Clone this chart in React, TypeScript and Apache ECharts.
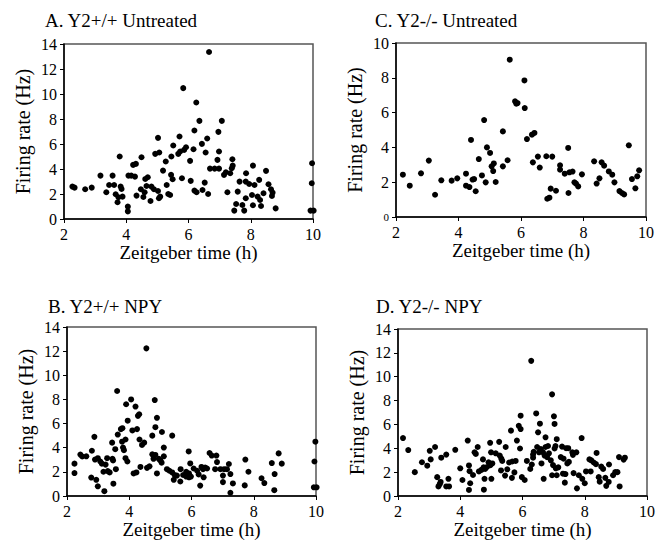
import React, { useEffect, useRef } from "react";
import * as echarts from "echarts";

const titles = ["A. Y2+/+ Untreated", "C. Y2-/- Untreated", "B. Y2+/+ NPY", "D. Y2-/- NPY"];
const xTicks = [2, 4, 6, 8, 10];
const yMaxes = [14, 10, 14, 14];
const xName = "Zeitgeber time (h)";
const yName = "Firing rate (Hz)";

const dataA: number[][] = [
  [2.27, 2.59], [2.34, 2.51], [2.68, 2.38], [2.89, 2.51], [3.17, 3.47], [3.36, 2.14], [3.45, 2.72],
  [3.56, 3.47], [3.61, 2.72], [3.66, 1.98], [3.72, 1.34], [3.75, 1.74], [3.79, 5.0], [3.82, 2.59],
  [3.85, 2.4], [3.88, 1.79], [4.05, 0.99], [4.05, 0.61], [4.07, 3.47], [4.16, 3.47], [4.22, 4.33],
  [4.31, 4.41], [4.28, 3.39], [4.33, 1.87], [4.49, 4.94], [4.47, 2.38], [4.55, 1.76], [4.59, 2.14],
  [4.61, 3.2], [4.69, 3.34], [4.65, 2.64], [4.78, 1.44], [4.81, 2.59], [4.89, 2.38], [4.93, 5.21],
  [5.02, 6.49], [5.02, 2.24], [5.06, 5.32], [5.05, 1.66], [5.09, 1.79], [5.18, 3.87], [5.27, 4.6],
  [5.3, 2.72], [5.35, 2.0], [5.41, 1.92], [5.44, 3.53], [5.49, 3.18], [5.45, 5.0], [5.51, 5.88],
  [5.71, 6.6], [5.67, 5.21], [5.73, 5.4], [5.79, 3.26], [5.83, 10.47], [5.86, 5.53], [5.92, 5.74],
  [6.05, 4.65], [6.07, 3.05], [6.16, 5.58], [6.19, 7.08], [6.19, 2.27], [6.26, 2.14], [6.25, 9.32],
  [6.35, 7.85], [6.43, 6.01], [6.45, 2.32], [6.52, 2.91], [6.55, 5.32], [6.6, 6.44], [6.63, 2.0],
  [6.66, 13.36], [6.69, 4.03], [6.84, 4.03], [6.93, 4.73], [6.96, 6.97], [6.98, 4.03], [6.98, 5.4],
  [7.07, 7.85], [7.14, 3.53], [7.2, 3.74], [7.25, 2.14], [7.34, 3.66], [7.39, 4.06], [7.41, 4.78],
  [7.42, 4.27], [7.47, 0.67], [7.53, 1.2], [7.58, 2.19], [7.64, 2.99], [7.73, 1.12], [7.79, 0.67],
  [7.85, 3.66], [7.84, 2.99], [7.84, 1.66], [7.95, 2.8], [8.04, 1.92], [8.07, 4.27], [8.07, 1.1],
  [8.12, 2.72], [8.22, 1.79], [8.27, 3.13], [8.3, 1.52], [8.33, 1.04], [8.41, 2.06], [8.49, 3.85],
  [8.57, 2.78], [8.65, 2.38], [8.68, 1.84], [8.7, 2.11], [8.8, 0.85], [9.97, 4.46], [9.96, 2.86],
  [9.92, 0.67], [10.02, 0.67],
];

const dataC: number[][] = [
  [2.22, 2.43], [2.44, 1.8], [2.8, 2.51], [3.05, 3.24], [3.25, 1.28], [3.45, 2.11], [3.78, 2.09],
  [3.96, 2.22], [4.24, 2.49], [4.24, 1.8], [4.35, 1.72], [4.4, 4.43], [4.45, 2.15], [4.5, 2.18],
  [4.55, 1.48], [4.65, 3.33], [4.75, 2.39], [4.82, 5.57], [4.87, 1.99], [4.91, 4.0], [5.01, 3.68],
  [5.06, 2.91], [5.11, 2.64], [5.13, 3.08], [5.19, 2.01], [5.42, 4.92], [5.42, 2.91], [5.57, 3.26],
  [5.64, 9.04], [5.81, 6.65], [5.85, 6.51], [5.89, 6.55], [6.11, 7.85], [6.12, 6.26], [6.19, 4.48],
  [6.35, 4.73], [6.43, 4.83], [6.38, 3.14], [6.54, 3.47], [6.6, 2.84], [6.81, 3.49], [6.84, 1.05],
  [6.91, 1.11], [6.95, 1.63], [7.0, 3.47], [7.12, 1.51], [7.25, 2.97], [7.25, 2.72], [7.4, 2.49],
  [7.51, 3.97], [7.52, 1.38], [7.55, 2.57], [7.65, 2.61], [7.71, 1.99], [7.76, 1.92], [7.83, 1.76],
  [7.95, 2.45], [8.34, 3.2], [8.42, 1.92], [8.51, 2.22], [8.58, 3.14], [8.66, 2.95], [8.81, 2.62],
  [8.92, 2.43], [8.99, 1.99], [9.15, 1.49], [9.23, 1.38], [9.3, 1.3], [9.45, 4.12], [9.55, 2.18],
  [9.66, 1.65], [9.72, 2.34], [9.78, 2.68],
];

const dataB: number[][] = [
  [2.24, 2.68], [2.24, 1.9], [2.43, 3.43], [2.49, 3.27], [2.62, 3.29], [2.8, 3.75], [2.78, 1.53],
  [2.88, 4.9], [2.9, 3.02], [2.94, 1.34], [2.99, 0.8], [2.99, 3.13], [3.07, 2.86], [3.12, 2.68],
  [3.17, 2.01], [3.2, 0.4], [3.24, 2.6], [3.29, 3.13], [3.31, 2.06], [3.37, 1.95], [3.45, 4.42],
  [3.46, 3.08], [3.48, 2.94], [3.49, 1.02], [3.55, 3.88], [3.57, 2.22], [3.61, 8.7], [3.63, 5.09],
  [3.73, 5.54], [3.77, 4.5], [3.78, 5.62], [3.8, 4.01], [3.83, 3.8], [3.88, 4.68], [3.9, 7.6],
  [3.88, 3.13], [3.94, 2.86], [3.95, 6.24], [4.06, 8.0], [4.1, 5.43], [4.14, 1.87], [4.2, 7.41],
  [4.23, 1.95], [4.25, 5.54], [4.28, 6.64], [4.32, 6.77], [4.33, 4.68], [4.36, 2.41], [4.41, 4.23],
  [4.48, 4.42], [4.55, 12.23], [4.57, 2.33], [4.65, 2.46], [4.74, 5.0], [4.74, 3.45], [4.78, 3.08],
  [4.82, 7.95], [4.84, 5.7], [4.84, 3.4], [4.89, 6.48], [4.89, 1.87], [4.95, 3.08], [5.0, 2.94],
  [5.04, 2.76], [5.05, 5.3], [5.11, 4.01], [5.11, 3.29], [5.21, 2.22], [5.29, 2.09], [5.38, 5.0],
  [5.38, 1.95], [5.43, 1.34], [5.46, 1.74], [5.53, 1.69], [5.64, 1.2], [5.65, 2.22], [5.73, 1.74],
  [5.83, 2.01], [5.83, 1.61], [5.91, 3.69], [5.92, 1.87], [5.92, 1.55], [5.96, 2.7], [5.98, 1.61],
  [6.07, 2.28], [6.18, 2.09], [6.23, 1.79], [6.28, 0.86], [6.32, 2.41], [6.37, 2.22], [6.39, 1.55],
  [6.44, 2.36], [6.5, 2.28], [6.58, 3.56], [6.65, 3.35], [6.76, 2.22], [6.8, 3.35], [6.82, 2.81],
  [6.93, 2.22], [7.01, 1.15], [7.01, 1.69], [7.05, 2.22], [7.14, 2.22], [7.2, 2.65], [7.25, 1.82],
  [7.25, 0.27], [7.33, 1.04], [7.71, 0.88], [7.73, 3.02], [7.83, 2.01], [8.25, 1.47], [8.34, 1.07],
  [8.58, 2.73], [8.66, 0.48], [8.67, 1.82], [8.8, 3.53], [8.9, 2.68], [9.93, 0.72], [10.02, 0.72],
  [9.95, 2.86], [9.98, 4.5],
];

const dataD: number[][] = [
  [2.16, 4.86], [2.33, 3.85], [2.54, 2.0], [2.77, 2.83], [2.94, 2.54], [3.02, 3.79], [3.05, 3.07],
  [3.19, 4.11], [3.26, 1.58], [3.3, 0.8], [3.34, 0.99], [3.37, 1.18], [3.39, 3.21], [3.55, 3.47],
  [3.55, 0.8], [3.62, 1.44], [3.64, 0.8], [3.84, 3.87], [4.0, 2.32], [4.07, 1.34], [4.24, 4.65],
  [4.28, 0.51], [4.28, 2.56], [4.3, 2.08], [4.32, 1.07], [4.41, 1.76], [4.46, 3.66], [4.5, 3.53],
  [4.56, 4.11], [4.6, 2.06], [4.68, 2.19], [4.73, 3.07], [4.75, 2.4], [4.76, 0.53], [4.78, 1.44],
  [4.8, 2.27], [4.86, 2.43], [4.91, 2.83], [4.96, 4.46], [4.97, 2.59], [4.99, 3.66], [5.0, 1.44],
  [5.03, 2.73], [5.14, 3.58], [5.25, 4.54], [5.27, 3.39], [5.32, 3.13], [5.31, 2.14], [5.35, 2.94],
  [5.44, 1.71], [5.46, 4.11], [5.51, 2.24], [5.57, 2.81], [5.63, 5.48], [5.66, 1.52], [5.67, 2.89],
  [5.74, 1.98], [5.78, 2.94], [5.82, 4.65], [5.88, 5.88], [5.92, 3.98], [5.94, 6.73], [5.94, 5.61],
  [5.98, 1.58], [6.07, 1.34], [6.14, 2.94], [6.25, 2.27], [6.28, 11.33], [6.3, 2.64], [6.34, 3.21],
  [6.34, 3.47], [6.36, 3.71], [6.44, 6.92], [6.47, 4.11], [6.5, 5.34], [6.53, 3.66], [6.56, 6.06],
  [6.59, 3.93], [6.61, 2.73], [6.66, 3.66], [6.68, 1.44], [6.71, 3.39], [6.74, 4.11], [6.74, 4.92],
  [6.79, 3.26], [6.82, 4.19], [6.85, 3.58], [6.91, 2.99], [6.95, 8.52], [6.95, 1.74], [6.98, 2.59],
  [7.01, 6.68], [7.03, 6.04], [7.03, 3.98], [7.06, 4.19], [7.07, 2.32], [7.1, 4.76], [7.1, 1.74],
  [7.15, 2.4], [7.23, 3.26], [7.27, 4.14], [7.3, 1.87], [7.32, 3.13], [7.36, 1.12], [7.38, 1.84],
  [7.4, 4.01], [7.44, 2.73], [7.47, 4.01], [7.49, 2.86], [7.6, 3.66], [7.62, 3.45], [7.64, 1.92],
  [7.73, 3.66], [7.75, 0.64], [7.81, 1.74], [7.9, 4.86], [7.92, 1.44], [8.0, 1.07], [8.04, 2.06],
  [8.15, 3.07], [8.19, 2.06], [8.21, 2.99], [8.29, 2.81], [8.36, 2.67], [8.38, 3.61], [8.45, 1.58],
  [8.48, 1.2], [8.53, 2.46], [8.59, 2.27], [8.66, 1.52], [8.69, 0.85], [8.77, 1.18], [8.78, 2.64],
  [8.91, 1.74], [8.98, 2.0], [9.05, 2.0], [9.12, 0.8], [9.1, 3.26], [9.25, 3.05], [9.29, 3.21],
];

const panelData = [dataA, dataC, dataB, dataD];

const OFF = 8;
const grids = [
  { left: 64, top: 44, width: 249, height: 175 },
  { left: 396, top: 43, width: 250, height: 174 },
  { left: 67, top: 327, width: 249, height: 175 },
  { left: 398, top: 329, width: 249, height: 175 },
];
const titlePos = [
  { x: 45, y: 20 },
  { x: 375, y: 20 },
  { x: 48, y: 306 },
  { x: 376, y: 306 },
];

const FONT = "Liberation Serif";

export default function App() {
  const ref = useRef<HTMLDivElement>(null);
  useEffect(() => {
    if (!ref.current) return;
    const chart = echarts.init(ref.current, undefined, { renderer: "svg" });
    const option: any = {
      animation: false,
      grid: grids.map((g) => ({
        left: g.left - OFF,
        top: g.top - OFF,
        width: g.width,
        height: g.height,
        show: true,
        borderColor: "#555",
        borderWidth: 1.5,
      })),
      xAxis: grids.map((_, i) => ({
        type: "value",
        gridIndex: i,
        min: xTicks[0],
        max: xTicks[xTicks.length - 1],
        interval: 2,
        name: xName,
        nameLocation: "middle",
        nameGap: 24,
        nameTextStyle: { fontFamily: FONT, fontSize: 19, color: "#000" },
        axisLine: { show: true, lineStyle: { color: "#000", width: 1.5 } },
        axisTick: { show: true, inside: false, length: 4, lineStyle: { color: "#000" } },
        axisLabel: { fontFamily: FONT, fontSize: 16, color: "#000", margin: 7 },
        splitLine: { show: false },
      })),
      yAxis: grids.map((_, i) => ({
        type: "value",
        gridIndex: i,
        min: 0,
        max: yMaxes[i],
        interval: 2,
        name: yName,
        nameLocation: "middle",
        nameGap: 31,
        nameTextStyle: { fontFamily: FONT, fontSize: 20, color: "#000" },
        axisLine: { show: true, lineStyle: { color: "#000", width: 1.5 } },
        axisTick: { show: true, inside: false, length: 4, lineStyle: { color: "#000" } },
        axisLabel: {
          fontFamily: FONT,
          fontSize: 16,
          color: "#000",
          margin: 7,
          formatter: i === 1 ? (v: number) => (v === 0 ? "{s|0}" : String(v)) : undefined,
          rich: i === 1 ? { s: { fontFamily: FONT, fontSize: 11, color: "#000" } } : undefined,
        },
        splitLine: { show: false },
      })),
      series: panelData.map((d, i) => ({
        type: "scatter",
        xAxisIndex: i,
        yAxisIndex: i,
        data: d,
        symbol: "circle",
        symbolSize: 6,
        itemStyle: { color: "#000", opacity: 1 },
        clip: false,
      })),
      graphic: titles.map((t, i) => ({
        type: "text",
        x: titlePos[i].x - OFF,
        y: titlePos[i].y - OFF,
        style: {
          text: t,
          fontFamily: FONT,
          fontSize: 19,
          fill: "#000",
          verticalAlign: "middle",
        },
      })),
    };
    chart.setOption(option);
    return () => chart.dispose();
  }, []);
  return (
    <div>
      <div ref={ref} style={{ width: 650, height: 532 }} />
    </div>
  );
}
